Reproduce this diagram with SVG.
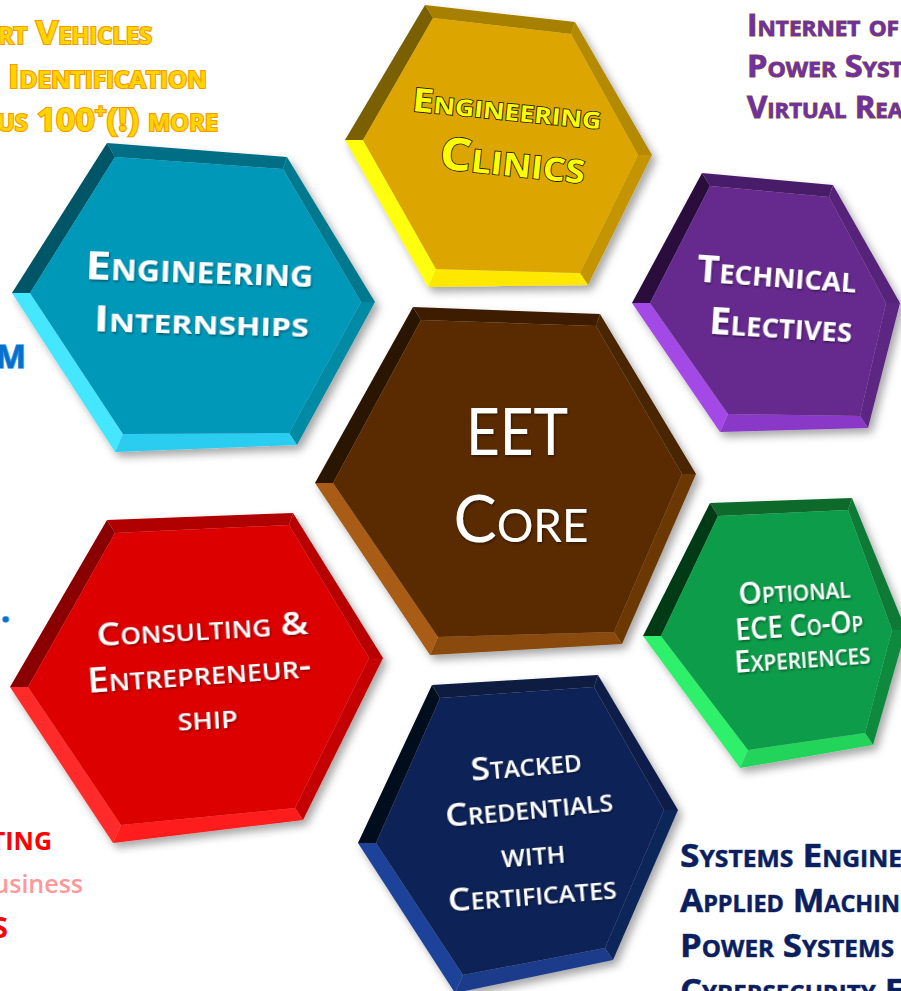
<svg xmlns="http://www.w3.org/2000/svg" width="901" height="991" viewBox="0 0 901 991">
<defs>
<filter id="sh" x="-15%" y="-15%" width="135%" height="135%"><feDropShadow dx="4" dy="5" stdDeviation="4" flood-color="#000" flood-opacity="0.35"/></filter>
<filter id="ts" x="-10%" y="-20%" width="120%" height="150%"><feDropShadow dx="1" dy="1.5" stdDeviation="1" flood-color="#000" flood-opacity="0.45"/></filter>
<style>
text{font-family:"Open Sans",Lato,"Liberation Sans",sans-serif;font-variant:small-caps}
.w{fill:#fff;text-anchor:middle;filter:url(#ts)}
.b{font-weight:700}
.s{font-weight:600}
.r{font-weight:400;font-family:Lato,"Open Sans",sans-serif}
.clin{fill:#ffff00;stroke:#1a1a00;stroke-width:1.6;paint-order:stroke;text-anchor:middle;font-weight:700}
.org{fill:#ffd400;stroke:#f59a00;stroke-width:2.2;paint-order:stroke;font-weight:700;font-size:33px}
.pur{fill:#7030a0;stroke:#8a5a30;stroke-width:1;paint-order:stroke;font-weight:700;font-size:31px}
.blu{fill:#0a6fcc;stroke:#45a8f5;stroke-width:1.5;paint-order:stroke;font-weight:700;font-size:32px;text-anchor:end}
.nav{fill:#0b1f5e;stroke:#3b4f8a;stroke-width:0.6;paint-order:stroke;font-weight:700;font-size:33px}
</style>
</defs>
<rect width="901" height="991" fill="#fff"/>

<g id="side-texts">
<text class="org" x="-2" y="44" textLength="154" lengthAdjust="spacingAndGlyphs">rt Vehicles</text>
<text class="org" x="8" y="88" textLength="199" lengthAdjust="spacingAndGlyphs">Identification</text>
<text class="org" x="-3" y="131" textLength="221" lengthAdjust="spacingAndGlyphs">us 100<tspan font-size="20" dy="-13">+</tspan><tspan dy="13">(!) more</tspan></text>
<text class="pur" x="747" y="36" textLength="152" lengthAdjust="spacingAndGlyphs">Internet of</text>
<text class="pur" x="747" y="77" textLength="156" lengthAdjust="spacingAndGlyphs">Power Syst</text>
<text class="pur" x="747" y="118" textLength="156" lengthAdjust="spacingAndGlyphs">Virtual Rea</text>
<text class="blu" x="26" y="368">M</text>
<text class="blu" x="10" y="622" font-size="36">.</text>
<text x="52" y="850" fill="#ff0000" font-weight="700" font-size="25" text-anchor="end" style="font-variant:normal">TING</text>
<text x="83" y="893" fill="#ff9999" font-weight="600" font-size="25" text-anchor="end" style="font-variant:normal">usiness</text>
<text x="8" y="938" fill="#ff0000" font-weight="700" font-size="28" text-anchor="end" style="font-variant:normal">S</text>
<text class="nav" x="680" y="867" textLength="222" lengthAdjust="spacingAndGlyphs">Systems Engine</text>
<text class="nav" x="680" y="912" textLength="220" lengthAdjust="spacingAndGlyphs">Applied Machin</text>
<text class="nav" x="680" y="957" textLength="214" lengthAdjust="spacingAndGlyphs">Power Systems</text>
<text class="nav" x="680" y="1002" textLength="224" lengthAdjust="spacingAndGlyphs">Cybersecurity E</text>
</g>

<g id="connectors"/>

<g id="node-internships">
<g filter="url(#sh)">
<polygon points="107,143 287,157 283,169 115,157" fill="#006e85"/>
<polygon points="287,157 375,302 361,302 283,169" fill="#00798f"/>
<polygon points="375,302 297,445 289,433 361,302" fill="#008aa3"/>
<polygon points="297,445 115,452 123,434 289,433" fill="#2ccdf0"/>
<polygon points="115,452 12,293 30,293 123,434" fill="#45e6ff"/>
<polygon points="12,293 107,143 115,157 30,293" fill="#005566"/>
<polygon points="115,157 283,169 361,302 289,433 123,434 30,293" fill="#0098b9"/>
</g>
<text class="w b" x="199" y="283" font-size="40" textLength="228" lengthAdjust="spacingAndGlyphs" transform="rotate(2 199 283)">Engineering</text>
<text class="w b" x="201" y="334" font-size="36" textLength="215" lengthAdjust="spacingAndGlyphs" transform="rotate(1.5 201 334)">Internships</text>
</g>

<g id="node-clinics">
<g filter="url(#sh)">
<polygon points="425,5 575,22 571,34 433,18" fill="#a88000"/>
<polygon points="575,22 652,155 638,155 571,34" fill="#b38a00"/>
<polygon points="652,155 588,285 580,273 638,155" fill="#c49500"/>
<polygon points="588,285 428,287 436,269 580,273" fill="#ffe800"/>
<polygon points="428,287 345,140 363,140 436,269" fill="#ffff10"/>
<polygon points="345,140 425,5 433,18 363,140" fill="#7a6000"/>
<polygon points="433,18 571,34 638,155 580,273 436,269 363,140" fill="#dca500"/>
</g>
<text class="clin" x="506" y="120" font-size="33" textLength="190" lengthAdjust="spacingAndGlyphs" transform="rotate(5.5 506 120)">Engineering</text>
<text class="clin" x="511" y="176" font-size="45" textLength="146" lengthAdjust="spacingAndGlyphs" transform="rotate(6 511 176)">Clinics</text>
</g>

<g id="node-electives">
<g filter="url(#sh)">
<polygon points="702,173 833,185 829,197 710,186" fill="#4a1d6b"/>
<polygon points="833,185 900,303 886,303 829,197" fill="#56247a"/>
<polygon points="900,303 868,428 860,416 886,303" fill="#5d2783"/>
<polygon points="868,428 720,432 728,414 860,416" fill="#8a38c8"/>
<polygon points="720,432 632,303 650,303 728,414" fill="#a348e6"/>
<polygon points="632,303 702,173 710,186 650,303" fill="#2a0f3d"/>
<polygon points="710,186 829,197 886,303 860,416 728,414 650,303" fill="#662a8e"/>
</g>
<text class="w b" x="776" y="287" font-size="38" textLength="160" lengthAdjust="spacingAndGlyphs" transform="rotate(4 776 287)">Technical</text>
<text class="w b" x="780" y="338" font-size="38" textLength="143" lengthAdjust="spacingAndGlyphs" transform="rotate(3.5 780 338)">Electives</text>
</g>

<g id="node-core">
<g filter="url(#sh)">
<polygon points="413,307 600,314 596,326 421,320" fill="#3d1d00"/>
<polygon points="600,314 696,474 682,474 596,326" fill="#4a2500"/>
<polygon points="696,474 622,644 614,632 682,474" fill="#6b3806"/>
<polygon points="622,644 430,655 438,637 614,632" fill="#8a4a0c"/>
<polygon points="430,655 315,483 333,483 438,637" fill="#a85c12"/>
<polygon points="315,483 413,307 421,320 333,483" fill="#2a1300"/>
<polygon points="421,320 596,326 682,474 614,632 438,637 333,483" fill="#5a2c00"/>
</g>
<text class="w r" x="517" y="455" font-size="65" textLength="102" lengthAdjust="spacingAndGlyphs">EET</text>
<text class="w r" x="521" y="542" font-size="65" textLength="135" lengthAdjust="spacingAndGlyphs">Core</text>
</g>

<g id="node-coop">
<g filter="url(#sh)">
<polygon points="710,503 852,498 848,510 718,516" fill="#0a6b2c"/>
<polygon points="852,498 906,630 892,630 848,510" fill="#0c7a35"/>
<polygon points="906,630 873,745 865,733 892,630" fill="#0e8a3e"/>
<polygon points="873,745 740,768 748,750 865,733" fill="#22d45a"/>
<polygon points="740,768 643,636 661,636 748,750" fill="#2df06a"/>
<polygon points="643,636 710,503 718,516 661,636" fill="#003a12"/>
<polygon points="718,516 848,510 892,630 865,733 748,750 661,636" fill="#0f9c48"/>
</g>
<text class="w s" x="795" y="601" font-size="30" textLength="112" lengthAdjust="spacingAndGlyphs" transform="rotate(-3.6 795 601)">Optional</text>
<text class="w s" x="800" y="636" font-size="30" textLength="128" lengthAdjust="spacingAndGlyphs" transform="rotate(-4 800 636)">ECE Co-Op</text>
<text class="w s" x="803" y="668" font-size="31" textLength="136" lengthAdjust="spacingAndGlyphs" transform="rotate(-4 803 668)">Experiences</text>
</g>

<g id="node-consulting">
<g filter="url(#sh)">
<polygon points="107,520 293,513 289,525 115,533" fill="#b00000"/>
<polygon points="293,513 383,658 369,658 289,525" fill="#b80000"/>
<polygon points="383,658 303,820 295,808 369,658" fill="#c40000"/>
<polygon points="303,820 113,843 121,825 295,808" fill="#ff1a1a"/>
<polygon points="113,843 10,687 28,687 121,825" fill="#ff2a2a"/>
<polygon points="10,687 107,520 115,533 28,687" fill="#8a0000"/>
<polygon points="115,533 289,525 369,658 295,808 121,825 28,687" fill="#dd0000"/>
</g>
<text class="w s" x="203" y="640" font-size="33" textLength="212" lengthAdjust="spacingAndGlyphs" transform="rotate(-3.3 203 640)">Consulting &amp;</text>
<text class="w s" x="200" y="685" font-size="34" textLength="224" lengthAdjust="spacingAndGlyphs" transform="rotate(-4 200 685)">Entrepreneur-</text>
<text class="w s" x="208" y="729" font-size="34" textLength="60" lengthAdjust="spacingAndGlyphs" transform="rotate(-3 208 729)">ship</text>
</g>

<g id="node-credentials">
<g filter="url(#sh)">
<polygon points="432,685 598,675 594,687 440,698" fill="#0a1a40"/>
<polygon points="598,675 678,810 664,810 594,687" fill="#0c1d48"/>
<polygon points="678,810 613,960 605,948 664,810" fill="#10255a"/>
<polygon points="613,960 455,993 463,975 605,948" fill="#1a3b8a"/>
<polygon points="455,993 358,843 376,843 463,975" fill="#1e4299"/>
<polygon points="358,843 432,685 440,698 376,843" fill="#030a1c"/>
<polygon points="440,698 594,687 664,810 605,948 463,975 376,843" fill="#0f2456"/>
</g>
<text class="w s" x="527" y="776" font-size="33" textLength="111" lengthAdjust="spacingAndGlyphs" transform="rotate(-5 527 776)">Stacked</text>
<text class="w s" x="530" y="819" font-size="33" textLength="168" lengthAdjust="spacingAndGlyphs" transform="rotate(-5.5 530 819)">Credentials</text>
<text class="w s" x="534" y="865" font-size="33" textLength="64" lengthAdjust="spacingAndGlyphs" transform="rotate(-4.5 534 865)">with</text>
<text class="w s" x="533" y="905" font-size="33" textLength="169" lengthAdjust="spacingAndGlyphs" transform="rotate(-4.5 533 905)">Certificates</text>
</g>
</svg>
